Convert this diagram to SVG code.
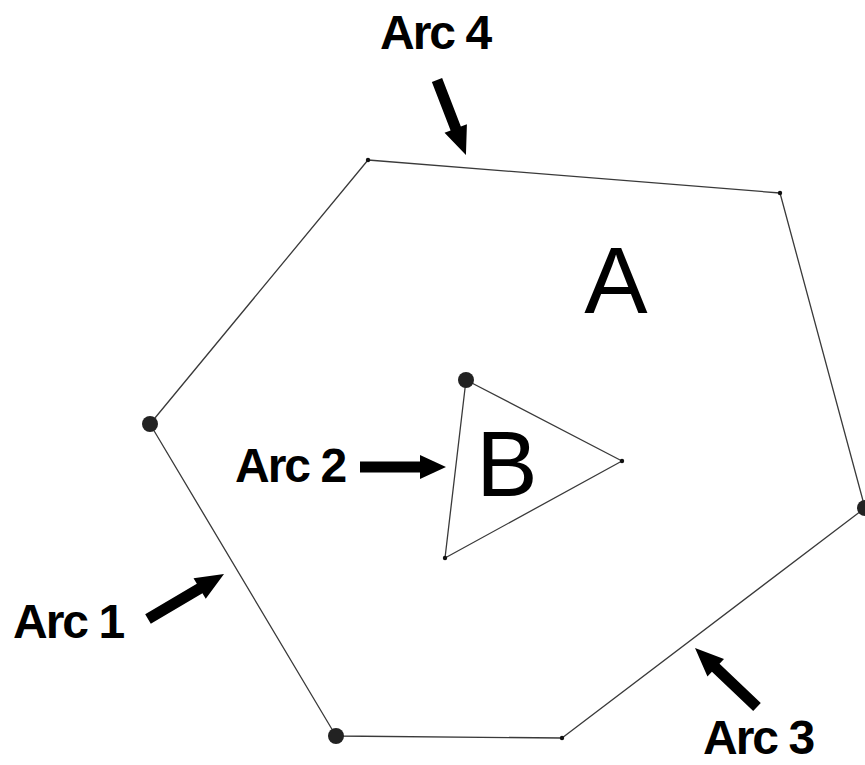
<svg xmlns="http://www.w3.org/2000/svg" width="865" height="765" viewBox="0 0 865 765">
<style>
.edge{fill:none;stroke:#3a3a3a;stroke-width:1.3;stroke-linejoin:round}
.big{fill:#222}
.small{fill:#111}
.lbl{font-family:"Liberation Sans",Arial,sans-serif;font-weight:bold;font-size:48px;letter-spacing:-2px;fill:#000}
.reg{font-family:"Liberation Sans",Arial,sans-serif;font-weight:normal;fill:#000}
.arrow{fill:#000}
</style>
<rect width="865" height="765" fill="#fff"/>
<g id="connectors">
  <g id="region-A-boundary">
    <polyline class="edge" points="150,424 368,160 780,193 865,508 562,738 336,736 150,424"/>
  </g>
  <g id="region-B-boundary">
    <polygon class="edge" points="466,380 622,461 445,558"/>
  </g>
  <path class="arrow" transform="translate(437,80) rotate(68.9)" d="M0,-5.5 L52,-5.5 L52,-12 L80.4,0 L52,12 L52,5.5 L0,5.5 Z"/>
  <path class="arrow" transform="translate(360,467)" d="M0,-5.5 L60,-5.5 L60,-12 L86,0 L60,12 L60,5.5 L0,5.5 Z"/>
  <path class="arrow" transform="translate(148,619) rotate(-30.6)" d="M0,-5.5 L60,-5.5 L60,-12 L88.3,0 L60,12 L60,5.5 L0,5.5 Z"/>
  <path class="arrow" transform="translate(757,707) rotate(-136.4)" d="M0,-5.5 L57,-5.5 L57,-12 L85.6,0 L57,12 L57,5.5 L0,5.5 Z"/>
</g>
<g id="v1"><circle class="small" cx="368" cy="160" r="2.2"/></g>
<g id="v2"><circle class="small" cx="780" cy="193" r="2.2"/></g>
<g id="v3"><circle class="big" cx="865" cy="508" r="8"/></g>
<g id="v4"><circle class="small" cx="562" cy="738" r="2.2"/></g>
<g id="v5"><circle class="big" cx="336" cy="736" r="8"/></g>
<g id="v6"><circle class="big" cx="150" cy="424" r="8"/></g>
<g id="t1"><circle class="big" cx="466" cy="380" r="8"/></g>
<g id="t2"><circle class="small" cx="622" cy="461" r="2.2"/></g>
<g id="t3"><circle class="small" cx="445" cy="558" r="2.2"/></g>
<g id="region-A"><text class="reg" x="616" y="313" font-size="95" text-anchor="middle">A</text></g>
<g id="region-B"><text class="reg" x="507" y="496" font-size="92" text-anchor="middle">B</text></g>
<g id="label-arc4"><text class="lbl" x="380" y="49">Arc 4</text></g>
<g id="label-arc2"><text class="lbl" x="235" y="482">Arc 2</text></g>
<g id="label-arc1"><text class="lbl" x="13" y="638">Arc 1</text></g>
<g id="label-arc3"><text class="lbl" x="703" y="754">Arc 3</text></g>
</svg>
